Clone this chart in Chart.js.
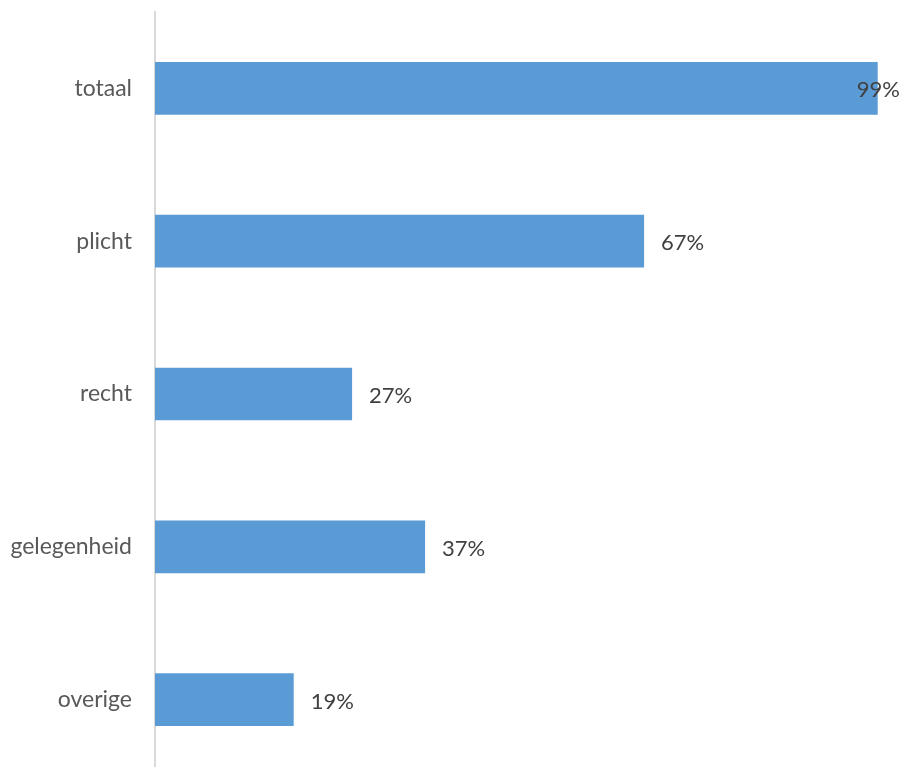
<!DOCTYPE html>
<html>
<head>
<meta charset="utf-8">
<script src="https://cdn.jsdelivr.net/npm/chart.js@4/dist/chart.umd.min.js"></script>
<style>
    html, body { margin: 0; padding: 0; background: #fff; overflow: hidden; }
    .wrap { width: 905px; height: 776px; position: relative; }
</style>
</head>
<body>
<div class="wrap"><canvas id="barChart"></canvas></div>
<script>
// 데이터
const categories = ['totaal', 'plicht', 'recht', 'gelegenheid', 'overige'];
const percentages = [99, 67, 27, 37, 19];
const valueLabels = ['99%', '67%', '27%', '37%', '19%'];

const FONT = 'Lato, "Open Sans", sans-serif';

// 막대 끝에 퍼센트 라벨 그리기
const valueLabelPlugin = {
    id: 'valueLabels',
    afterDatasetsDraw(chart) {
        const ctx = chart.ctx;
        const meta = chart.getDatasetMeta(0);
        ctx.save();
        ctx.font = '22px ' + FONT;
        ctx.fillStyle = '#404040';
        ctx.textAlign = 'left';
        ctx.textBaseline = 'middle';
        meta.data.forEach((bar, i) => {
            const text = valueLabels[i];
            const w = ctx.measureText(text).width;
            let x = bar.x + 17;
            if (x + w > chart.width - 5) x = chart.width - 5 - w; // 캔버스 밖으로 안 나가게
            ctx.fillText(text, x, bar.y + 2);
        });
        ctx.restore();
    }
};

new Chart(document.getElementById('barChart').getContext('2d'), {
    type: 'bar',
    data: {
        labels: categories,
        datasets: [{
            data: percentages,
            backgroundColor: '#5b9bd5',
            borderWidth: 0,
            barPercentage: 0.345,
            categoryPercentage: 1
        }]
    },
    options: {
        indexAxis: 'y',
        responsive: true,
        maintainAspectRatio: false,
        animation: false,
        plugins: {
            legend: { display: false },
            tooltip: { enabled: false }
        },
        layout: {
            padding: { top: 12, right: 20, bottom: 0, left: 0 }
        },
        scales: {
            x: {
                display: false,
                min: 0,
                max: 100
            },
            y: {
                afterFit(scale) {
                    scale.width = 155;
                    scale.paddingTop = 0; // 위아래 여백 제거
                    scale.paddingBottom = 0;
                },
                grid: { display: false, drawTicks: false },
                border: { display: true, color: '#d9d9d9', width: 2 },
                ticks: {
                    padding: 23,
                    color: '#595959',
                    font: { family: FONT, size: 23 }
                }
            }
        }
    },
    plugins: [valueLabelPlugin]
});
</script>
</body>
</html>
